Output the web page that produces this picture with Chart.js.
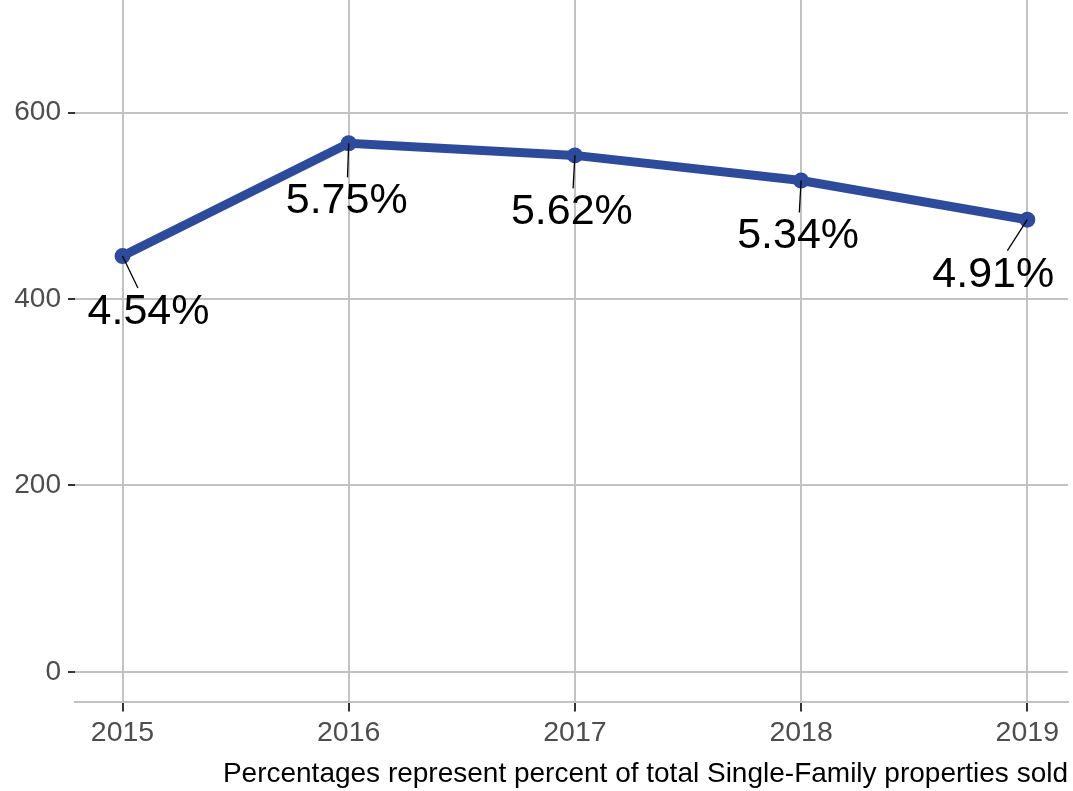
<!DOCTYPE html>
<html>
<head>
<meta charset="utf-8">
<script src="https://cdn.jsdelivr.net/npm/chart.js@4"></script>
<style>
	body { margin: 0; background: #fff; }
	#wrap { width: 1073px; height: 791px; position: relative; }
</style>
</head>
<body>
<div id="wrap"><canvas id="chart"></canvas></div>
<script>
// data
var years = [2015, 2016, 2017, 2018, 2019];
var sold = [446, 567, 554, 527, 485];
var shares = ["4.54%", "5.75%", "5.62%", "5.34%", "4.91%"];
var yTicks = [0, 200, 400, 600];
var caption = "Percentages represent percent of total Single-Family properties sold";

// label placement (pixel offset from its point, like ggrepel put them)
var labelOffsets = [[26, 54], [-2, 56], [-3, 55], [-3, 54], [-34, 53]];

var FONT = "'Liberation Sans', Arial, sans-serif";
var GRID = "#c2c2c2";

var repelLabels = {
	id: "repelLabels",
	afterDatasetsDraw: function (chart) {
		var ctx = chart.ctx;
		var pts = chart.getDatasetMeta(0).data;
		ctx.save();
		ctx.font = "43px " + FONT;
		ctx.textAlign = "center";
		ctx.textBaseline = "middle";
		pts.forEach(function (p, i) {
			var dx = labelOffsets[i][0];
			var dy = labelOffsets[i][1];
			var t = (dy - 22) / dy;
			ctx.strokeStyle = "#000";
			ctx.lineWidth = 1.3;
			ctx.beginPath();
			ctx.moveTo(p.x, p.y);
			ctx.lineTo(p.x + dx * t, p.y + dy * t);
			ctx.stroke();
			ctx.fillStyle = "#000";
			ctx.fillText(shares[i], p.x + dx, p.y + dy + 2);
		});
		ctx.restore();
	},
};

new Chart(document.getElementById("chart"), {
	type: "line",
	data: {
		datasets: [
			{
				data: years.map(function (y, i) {
					return { x: y, y: sold[i] };
				}),
				borderColor: "#2e4a9a",
				backgroundColor: "#2e4a9a",
				borderWidth: 9,
				pointRadius: 8,
				pointBorderWidth: 0,
				pointBackgroundColor: "#2e4a9a",
				tension: 0,
				fill: false,
			},
		],
	},
	plugins: [repelLabels],
	options: {
		responsive: true,
		maintainAspectRatio: false,
		animation: false,
		layout: {
			autoPadding: false,
			padding: { left: 0, right: 5, top: 0, bottom: 0 },
		},
		plugins: {
			legend: { display: false },
			tooltip: { enabled: false },
			title: {
				display: true,
				text: caption,
				position: "bottom",
				align: "end",
				color: "#000",
				font: { family: FONT, size: 28, weight: "normal", lineHeight: 1.2 },
				padding: { top: 0, bottom: 0 },
			},
		},
		scales: {
			x: {
				type: "linear",
				min: 2014.79,
				max: 2019.18,
				afterBuildTicks: function (scale) {
					scale.ticks = years.map(function (v) {
						return { value: v };
					});
				},
				afterFit: function (scale) {
					scale.height = 55;
					scale.paddingLeft = 0;
					scale.paddingRight = 0;
				},
				grid: {
					color: GRID,
					lineWidth: 2,
					drawTicks: true,
					tickLength: 9,
					tickColor: "#333",
					tickWidth: 2,
				},
				border: { display: true, color: GRID, width: 2 },
				ticks: {
					color: "#4d4d4d",
					padding: 5,
					maxRotation: 0,
					font: { family: FONT, size: 28.5 },
					callback: function (v) {
						return String(v);
					},
				},
			},
			y: {
				min: -32.8,
				max: 720.7,
				afterBuildTicks: function (scale) {
					scale.ticks = yTicks.map(function (v) {
						return { value: v };
					});
				},
				afterFit: function (scale) {
					scale.width = 75;
					scale.paddingTop = 0;
					scale.paddingBottom = 0;
				},
				grid: {
					color: GRID,
					lineWidth: 2,
					drawTicks: true,
					tickLength: 7,
					tickColor: "#333",
					tickWidth: 2,
				},
				border: { display: false },
				ticks: {
					color: "#4d4d4d",
					padding: 7,
					font: { family: FONT, size: 28 },
				},
			},
		},
	},
});
</script>
</body>
</html>
